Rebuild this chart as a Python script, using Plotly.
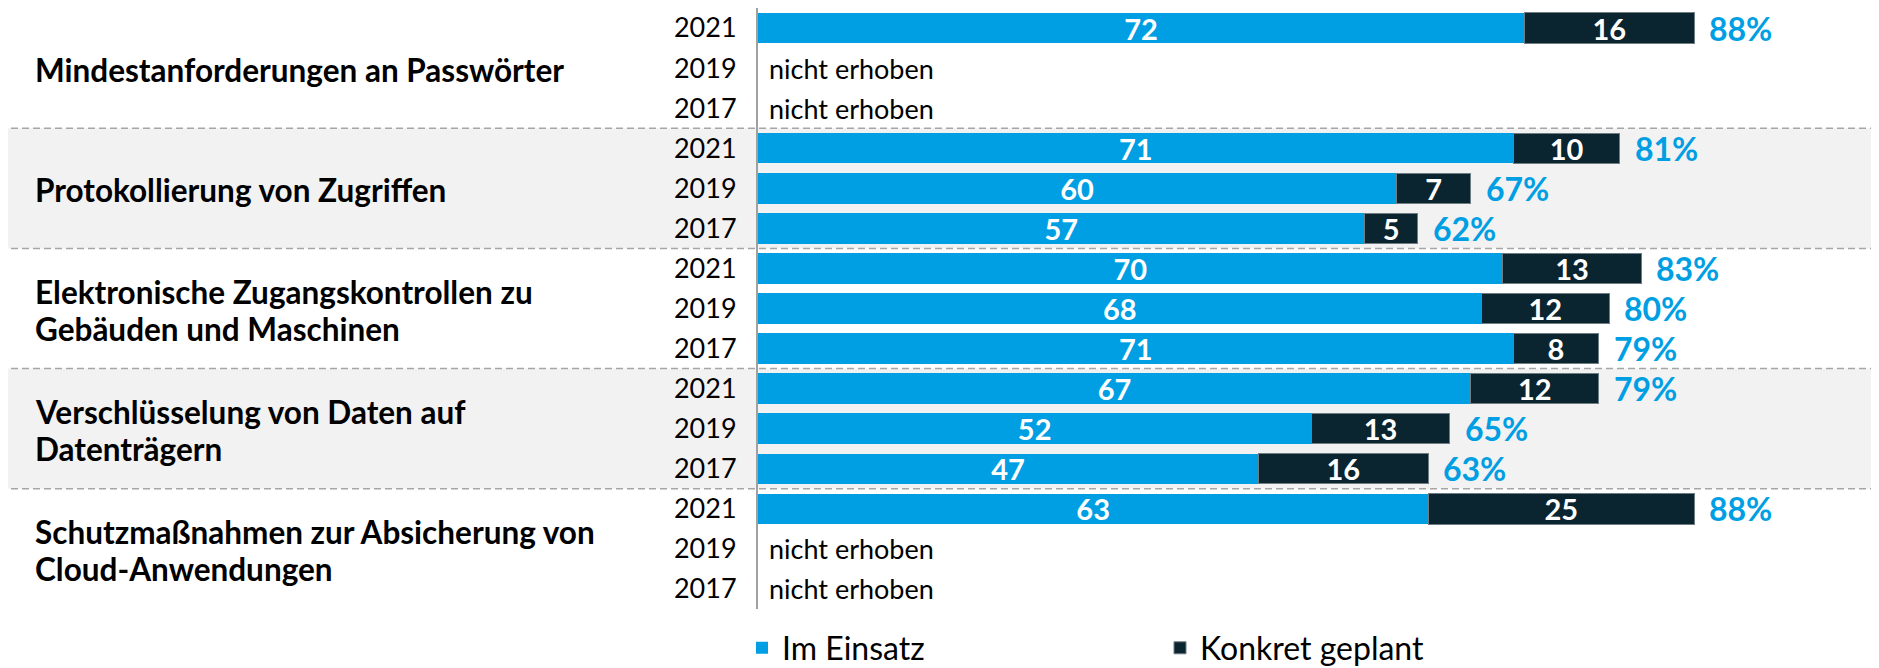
import plotly.graph_objects as go

# ---- data ----
groups = [
    "Mindestanforderungen an Passwörter",
    "Protokollierung von Zugriffen",
    "Elektronische Zugangskontrollen zu<br>Gebäuden und Maschinen",
    "Verschlüsselung von Daten auf<br>Datenträgern",
    "Schutzmaßnahmen zur Absicherung von<br>Cloud-Anwendungen",
]
years = ["2021", "2019", "2017"]
im_einsatz = [72, None, None, 71, 60, 57, 70, 68, 71, 67, 52, 47, 63, None, None]
konkret_geplant = [16, None, None, 10, 7, 5, 13, 12, 8, 12, 13, 16, 25, None, None]
totals = [88, None, None, 81, 67, 62, 83, 80, 79, 79, 65, 63, 88, None, None]
missing_label = "nicht erhoben"
series_names = ["Im Einsatz", "Konkret geplant"]

BLUE = "#009FE3"
DARK = "#0A2530"
FONT = "Lato"

n_rows = len(groups) * len(years)
rows = list(range(n_rows))
tick_text = [years[i % len(years)] for i in rows]

fig = go.Figure()
fig.add_trace(go.Bar(
    name=series_names[0], y=rows, x=im_einsatz, orientation="h",
    marker=dict(color=BLUE, line=dict(width=0)),
    text=im_einsatz, texttemplate="%{text}", textposition="inside",
    insidetextanchor="middle", textangle=0, constraintext="none",
    textfont=dict(family=FONT, size=29, color="white", weight="bold"),
    hoverinfo="skip",
))
fig.add_trace(go.Bar(
    name=series_names[1], y=rows, x=konkret_geplant, orientation="h",
    marker=dict(color=DARK, line=dict(width=1, color="#6F7D83")),
    text=konkret_geplant, texttemplate="%{text}", textposition="inside",
    insidetextanchor="middle", textangle=0, constraintext="none",
    textfont=dict(family=FONT, size=29, color="white", weight="bold"),
    hoverinfo="skip",
))

# geometry (the page body adds an 8px offset; compensate)
OFF = 8
W, H = 1879 - OFF, 668
L, T = 758 - OFF, 0
PH = 609 - OFF - T          # plot height so bottom lands at 609 on screen
B = H - T - PH
R = 0
PW = W - L - R
PX_PER_UNIT = 10.64
XMAX = PW / PX_PER_UNIT
LINE_SPACING = 37

def px(xpix):
    """screen x pixel -> paper coordinate"""
    return (xpix - OFF - L) / PW

annotations = []
shapes = []

for i in rows:
    if totals[i] is not None:
        annotations.append(dict(
            x=totals[i], y=i, xref="x", yref="y", text=f"{totals[i]}%",
            showarrow=False, xanchor="left", yanchor="middle", xshift=13,
            font=dict(family=FONT, size=32, color=BLUE, weight="bold"),
        ))
    else:
        annotations.append(dict(
            x=0, y=i, xref="x", yref="y", text=missing_label,
            showarrow=False, xanchor="left", yanchor="middle", xshift=9,
            font=dict(family=FONT, size=27, color="#000000"),
        ))

for g, name in enumerate(groups):
    y0 = g * len(years) - 0.5
    y1 = y0 + len(years)
    lines = name.split("<br>")
    for k, line in enumerate(lines):
        annotations.append(dict(
            x=px(33), y=(y0 + y1) / 2, xref="paper", yref="y", text=line,
            showarrow=False, xanchor="left", yanchor="middle", align="left",
            yshift=-(k - (len(lines) - 1) / 2) * LINE_SPACING - 2,
            font=dict(family=FONT, size=31.5, color="#000000", weight="bold"),
        ))
    if g % 2 == 1:
        shapes.append(dict(
            type="rect", xref="paper", yref="y", x0=px(4), x1=px(1873),
            y0=y0, y1=y1, fillcolor="#F2F2F2", line=dict(width=0), layer="below",
        ))
    if g > 0:
        shapes.append(dict(
            type="line", xref="paper", yref="y", x0=px(0), x1=px(1874),
            y0=y0, y1=y0, line=dict(color="#A6A6A6", width=1.5, dash="7px,4px"),
            layer="above",
        ))

fig.update_layout(
    width=W, height=H,
    margin=dict(l=L, r=R, t=T, b=B, pad=0, autoexpand=False),
    barmode="stack", bargap=0.24,
    plot_bgcolor="white", paper_bgcolor="white",
    font=dict(family=FONT, color="#000000"),
    showlegend=True,
    legend=dict(
        orientation="h", x=px(742), xanchor="left",
        y=-(648 - 609) / PH, yanchor="middle",
        font=dict(family=FONT, size=32, color="#000000"),
        entrywidth=373, entrywidthmode="pixels", traceorder="normal",
        bgcolor="rgba(0,0,0,0)", borderwidth=0,
    ),
    xaxis=dict(range=[0, XMAX], visible=False, fixedrange=True),
    yaxis=dict(
        range=[n_rows - 0.5, -0.5], tickmode="array", tickvals=rows,
        ticktext=tick_text, ticks="", showgrid=False, zeroline=False,
        showline=True, linecolor="#A0A0A0", linewidth=2,
        tickfont=dict(family=FONT, size=27, color="#000000"),
        ticklabelstandoff=14, fixedrange=True, automargin=False,
    ),
    annotations=annotations, shapes=shapes,
)

fig.write_html("out.html")
